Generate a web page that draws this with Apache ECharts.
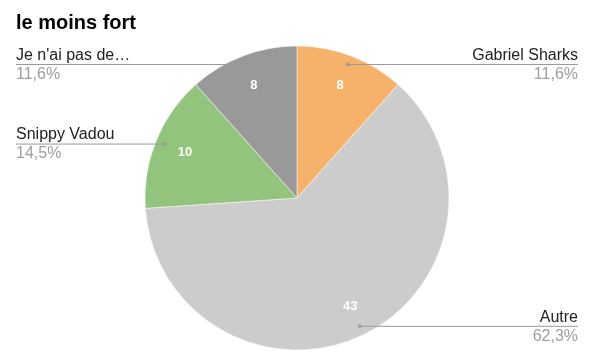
<!DOCTYPE html>
<html>
<head>
<meta charset="utf-8">
<script src="https://cdn.jsdelivr.net/npm/echarts@6/dist/echarts.min.js"></script>
<style>html,body{margin:0;padding:0;background:#fff}#c{width:592px;height:360px}</style>
</head>
<body>
<div id="c"></div>
<script>
const titleText = 'le moins fort';
const categories = ['Gabriel Sharks', 'Autre', 'Snippy Vadou', "Je n'ai pas de…"];
const values = [8, 43, 10, 8];
const colors = ['#f6b26b', '#cccccc', '#93c47d', '#999999'];

const FONT = '"Liberation Sans", Arial, sans-serif';
const W = 592, CX = 297, CY = 198, R = 152;
const total = values.reduce((a, b) => a + b, 0);
const pct = v => (v / total * 100).toFixed(1).replace('.', ',') + '%';

// mid-angle positions (in value units) for the leader-line dots
const mids = [];
let acc = 0;
values.forEach(v => { mids.push(acc + v / 2); acc += v; });

const pieData = categories.map((n, i) => ({name: n, value: values[i]}));
const base = {type: 'pie', center: [CX, CY], startAngle: 90, clockwise: true, emphasis: {disabled: true}};

const chart = echarts.init(document.getElementById('c'), null, {renderer: 'canvas'});
chart.setOption({
  animation: false,
  title: {
    text: titleText, left: 16, top: 13, padding: 0,
    textStyle: {fontFamily: FONT, fontSize: 20, fontWeight: 'bold', color: '#000'}
  },
  color: colors,
  polar: {center: [CX, CY], radius: R},
  angleAxis: {type: 'value', min: 0, max: total, startAngle: 90, clockwise: true, show: false},
  radiusAxis: {type: 'value', min: 0, max: 1, show: false},
  series: [
    Object.assign({}, base, {
      radius: [0, R],
      z: 2,
      silent: true,
      itemStyle: {borderColor: '#fff', borderWidth: 0.5},
      data: pieData,
      label: {show: false},
      labelLine: {show: false}
    }),
    Object.assign({}, base, {
      radius: [0, R],
      z: 3,
      silent: true,
      avoidLabelOverlap: false,
      itemStyle: {color: 'rgba(0,0,0,0)', borderWidth: 0},
      data: pieData,
      label: {
        show: true,
        position: 'outside',
        formatter: p => '{n|' + p.name + '}\n{p|' + pct(p.value) + '}',
        rich: {
          n: {fontFamily: FONT, fontSize: 16, color: '#222', lineHeight: 19},
          p: {fontFamily: FONT, fontSize: 16, color: '#9e9e9e', lineHeight: 19}
        }
      },
      labelLine: {show: true, length: 10, length2: 10, lineStyle: {color: '#999', width: 1}},
      labelLayout: function (params) {
        const p0 = params.labelLinePoints[0];
        const px = CX + (p0[0] - CX) * 0.94;
        const py = CY + (p0[1] - CY) * 0.94;
        const left = p0[0] < CX;
        const ex = left ? 16 : W - 14;
        return {
          x: ex, y: py + 0.5,
          align: left ? 'left' : 'right',
          verticalAlign: 'middle',
          labelLinePoints: [[px, py], [ex, py], [ex, py]]
        };
      }
    }),
    Object.assign({}, base, {
      radius: [84, R],
      silent: true,
      z: 4,
      itemStyle: {color: 'rgba(0,0,0,0)', borderWidth: 0},
      data: pieData,
      label: {
        show: true, position: 'inside',
        formatter: p => String(p.value),
        fontFamily: FONT, fontSize: 13, fontWeight: 'bold', color: '#fff'
      },
      labelLine: {show: false}
    }),
    {
      type: 'scatter',
      coordinateSystem: 'polar',
      symbol: 'circle',
      symbolSize: 4,
      silent: true,
      z: 5,
      itemStyle: {color: '#999'},
      data: mids.map(m => [0.94, m])
    }
  ]
});
</script>
</body>
</html>
